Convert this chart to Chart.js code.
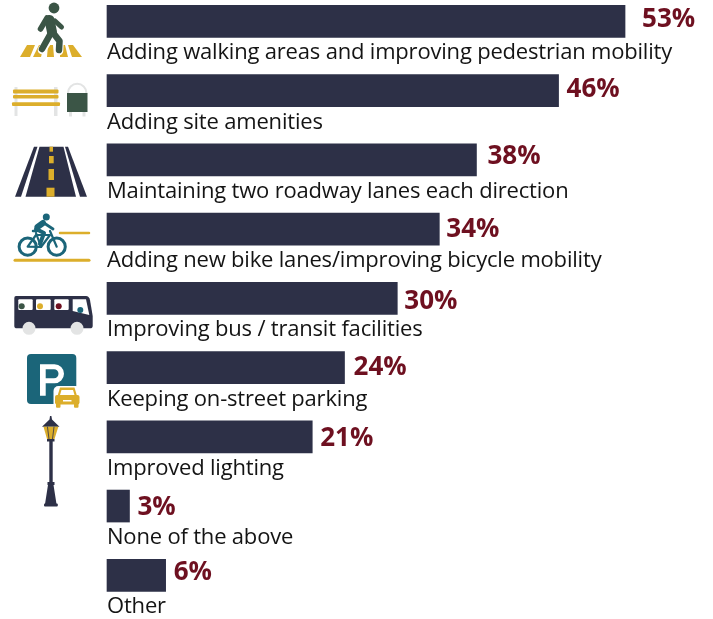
<!DOCTYPE html>
<html>
<head>
<meta charset="utf-8">
<style>
  html, body { margin: 0; padding: 0; background: #fff; }
  canvas { display: block; }
</style>
<script src="https://cdn.jsdelivr.net/npm/chart.js@4"></script>
</head>
<body>
<canvas id="chart" width="713" height="619"></canvas>
<script>
const categories = [
  "Adding walking areas and improving pedestrian mobility",
  "Adding site amenities",
  "Maintaining two roadway lanes each direction",
  "Adding new bike lanes/improving bicycle mobility",
  "Improving bus / transit facilities",
  "Keeping on-street parking",
  "Improved lighting",
  "None of the above",
  "Other"
];
// bar lengths
const barValues = [53, 46.2, 37.8, 34, 29.7, 24.3, 21, 2.3, 6];
// printed labels
const valueLabels = ["53%", "46%", "38%", "34%", "30%", "24%", "21%", "3%", "6%"];

const NAVY = "#2d3047", MAROON = "#6e1020", GOLD = "#dcae2b", GREEN = "#3b5546", TEAL = "#1b6579", GREY = "#e3e4e4";

// the value labels sit unevenly in the original, nudge them per row
const labelDx = [17, 8, 11, 7, 7, 9, 8, 8, 8];
const labelDy = [-3, -3, -5, -1, 2, -2, 0, 0, -4];

function poly(ctx, color, pts) {
  ctx.fillStyle = color;
  ctx.beginPath();
  pts.forEach((p, i) => (i ? ctx.lineTo(p[0], p[1]) : ctx.moveTo(p[0], p[1])));
  ctx.closePath();
  ctx.fill();
}
function line(ctx, color, w, pts) {
  ctx.strokeStyle = color;
  ctx.lineWidth = w;
  ctx.lineCap = "round";
  ctx.lineJoin = "round";
  ctx.beginPath();
  pts.forEach((p, i) => (i ? ctx.lineTo(p[0], p[1]) : ctx.moveTo(p[0], p[1])));
  ctx.stroke();
}
function dot(ctx, color, x, y, r) {
  ctx.fillStyle = color;
  ctx.beginPath();
  ctx.arc(x, y, r, 0, Math.PI * 2);
  ctx.fill();
}
function box(ctx, color, x0, y0, x1, y1, r) {
  ctx.fillStyle = color;
  ctx.beginPath();
  ctx.roundRect(x0, y0, x1 - x0, y1 - y0, r || 0);
  ctx.fill();
}

function drawWalker(ctx) {
  poly(ctx, GOLD, [[27, 45], [35, 45], [30, 57], [20, 57]]);
  poly(ctx, GOLD, [[39, 45], [44, 45], [41, 57], [33, 57]]);
  poly(ctx, GOLD, [[48, 45], [53, 45], [54, 57], [47, 57]]);
  poly(ctx, GOLD, [[60, 45], [65, 45], [68, 57], [60, 57]]);
  poly(ctx, GOLD, [[68, 45], [73, 45], [82, 57], [72, 57]]);
  // white halo so the legs stand off the crossing
  line(ctx, "#fff", 8.5, [[51, 36], [42, 50]]);
  line(ctx, "#fff", 8.5, [[54, 36], [59.5, 42], [59, 51]]);
  dot(ctx, GREEN, 54, 8, 5.4);
  line(ctx, GREEN, 10, [[49.5, 20], [52, 32]]);
  line(ctx, GREEN, 5.5, [[47, 18], [40.5, 29]]);
  line(ctx, GREEN, 5, [[55, 21], [61.5, 27]]);
  line(ctx, GREEN, 6.5, [[51, 33], [42, 49]]);
  line(ctx, GREEN, 6.5, [[54, 34], [59.5, 41], [59, 50]]);
}
function drawBench(ctx) {
  box(ctx, GREY, 14.5, 87, 17.5, 116);
  box(ctx, GREY, 54, 87, 57.5, 116);
  box(ctx, GOLD, 13, 89.5, 58.5, 93.5, 1);
  box(ctx, GOLD, 13, 95, 58.5, 98.5, 1);
  box(ctx, GOLD, 12, 102.3, 60, 106, 1);
  ctx.strokeStyle = GREY;
  ctx.lineWidth = 2;
  ctx.beginPath();
  ctx.moveTo(68, 94);
  ctx.lineTo(68, 93);
  ctx.arc(77.2, 93, 9.2, Math.PI, 0);
  ctx.lineTo(86.5, 94);
  ctx.stroke();
  box(ctx, GREEN, 67, 93, 87.5, 112);
  box(ctx, GREY, 69, 112, 72, 116.5);
  box(ctx, GREY, 82.5, 112, 85.5, 116.5);
}
function drawRoad(ctx) {
  poly(ctx, NAVY, [[39.5, 146.7], [63.5, 146.7], [76, 196.7], [25.5, 196.7]]);
  poly(ctx, NAVY, [[34, 146.7], [37.5, 146.7], [21, 196.7], [15, 196.7]]);
  poly(ctx, NAVY, [[65, 146.7], [68, 146.7], [87, 196.7], [80, 196.7]]);
  box(ctx, GOLD, 49.5, 146.7, 53, 151.7);
  box(ctx, GOLD, 49, 156, 53.7, 163.3);
  box(ctx, GOLD, 48.5, 169, 54, 180);
  box(ctx, GOLD, 46.5, 187.7, 54.5, 196.7);
}
function drawBike(ctx) {
  line(ctx, GOLD, 2.5, [[60, 233], [89, 233]]);
  line(ctx, GOLD, 3, [[15, 260.3], [89, 260.3]]);
  ctx.strokeStyle = TEAL;
  ctx.lineWidth = 3;
  ctx.beginPath();
  ctx.arc(27.7, 246.7, 8.6, 0, Math.PI * 2);
  ctx.stroke();
  ctx.beginPath();
  ctx.arc(56.7, 246.7, 8.6, 0, Math.PI * 2);
  ctx.stroke();
  dot(ctx, TEAL, 46.3, 217, 3.5);
  line(ctx, TEAL, 2.2, [[27.7, 246.7], [36, 235], [50, 235], [41, 247], [27.7, 246.7]]);
  line(ctx, TEAL, 2.2, [[36, 233], [41, 247]]);
  line(ctx, TEAL, 2.2, [[50, 231], [56.7, 246.7]]);
  line(ctx, TEAL, 6, [[37.5, 227], [43, 223]]);
  line(ctx, TEAL, 2.8, [[44, 223], [53, 229]]);
  line(ctx, TEAL, 4, [[36, 229], [44, 233], [40, 244]]);
  line(ctx, TEAL, 2.5, [[33, 231], [37, 231]]);
}
function drawBus(ctx) {
  ctx.fillStyle = NAVY;
  ctx.beginPath();
  ctx.moveTo(16, 296);
  ctx.lineTo(86, 296);
  ctx.quadraticCurveTo(89, 296, 90, 300);
  ctx.lineTo(92.7, 316);
  ctx.lineTo(92.7, 326);
  ctx.quadraticCurveTo(92.7, 328.3, 90, 328.3);
  ctx.lineTo(17, 328.3);
  ctx.quadraticCurveTo(14.3, 328.3, 14.3, 326);
  ctx.lineTo(14.3, 298);
  ctx.quadraticCurveTo(14.3, 296, 16, 296);
  ctx.fill();
  box(ctx, "#fff", 18.3, 299.3, 32.7, 310, 1);
  box(ctx, "#fff", 36, 299.3, 50.7, 310, 1);
  box(ctx, "#fff", 54.3, 299.3, 68.7, 310, 1);
  poly(ctx, "#fff", [[72.7, 299.3], [86, 299.3], [89.3, 315], [72.7, 311]]);
  dot(ctx, GREEN, 21.7, 306.3, 3);
  dot(ctx, GOLD, 40, 306.3, 3);
  dot(ctx, MAROON, 58.7, 306.3, 3);
  dot(ctx, TEAL, 80.3, 310, 3);
  dot(ctx, GREY, 29, 328.3, 6.5);
  dot(ctx, GREY, 77, 328.3, 6.5);
}
function drawParking(ctx) {
  box(ctx, TEAL, 27, 354, 76.3, 404, 4);
  ctx.fillStyle = "#fff";
  ctx.beginPath();
  ctx.moveTo(40, 364.3);
  ctx.lineTo(54.5, 364.3);
  ctx.arc(54.5, 373.8, 9.5, -Math.PI / 2, Math.PI / 2);
  ctx.lineTo(45.7, 383.3);
  ctx.lineTo(45.7, 395.7);
  ctx.lineTo(40, 395.7);
  ctx.closePath();
  ctx.moveTo(45.7, 369.3);
  ctx.lineTo(45.7, 378.3);
  ctx.lineTo(54, 378.3);
  ctx.arc(54, 373.8, 4.5, Math.PI / 2, -Math.PI / 2, true);
  ctx.closePath();
  ctx.fill("evenodd");
  box(ctx, "#fff", 53.5, 386, 81, 409, 5);
  box(ctx, GOLD, 55, 395, 79.5, 404.5, 2);
  poly(ctx, GOLD, [[57.5, 396], [60, 387.5], [74.5, 387.5], [77, 396]]);
  poly(ctx, "#fff", [[60, 395], [61.5, 390], [73, 390], [74.5, 395]]);
  box(ctx, GOLD, 56, 403, 60.5, 407.7, 1);
  box(ctx, GOLD, 74, 403, 78.5, 407.7, 1);
  box(ctx, "#fff", 63, 400, 71.5, 401.5);
}
function drawLamp(ctx) {
  poly(ctx, NAVY, [[50, 416], [51.4, 416], [52, 419.5], [59.5, 426.8], [42, 426.8], [49.5, 419.5]]);
  poly(ctx, GOLD, [[43.5, 426.8], [58.3, 426.8], [54.5, 439], [47, 439]]);
  line(ctx, NAVY, 0.8, [[47.5, 427], [49, 439]]);
  line(ctx, NAVY, 0.8, [[54, 427], [52.5, 439]]);
  box(ctx, NAVY, 47, 439, 54.5, 441.5);
  box(ctx, NAVY, 49.3, 441, 52.7, 484);
  box(ctx, NAVY, 47.5, 482, 54.5, 485);
  poly(ctx, NAVY, [[48, 485], [53.5, 485], [56.5, 504], [45, 504]]);
  box(ctx, NAVY, 44, 503.5, 57.8, 506.5, 1);
}

const decoration = {
  id: "decoration",
  afterDatasetsDraw(chart) {
    const ctx = chart.ctx;
    const meta = chart.getDatasetMeta(0);
    ctx.save();
    ctx.textBaseline = "alphabetic";
    meta.data.forEach((bar, i) => {
      ctx.textAlign = "left";
      ctx.fillStyle = MAROON;
      ctx.font = 'bold 26px "Open Sans"';
      ctx.fillText(valueLabels[i], bar.x + labelDx[i], bar.y + 9 + labelDy[i]);
      ctx.fillStyle = "#141414";
      ctx.font = '22px "Open Sans"';
      ctx.letterSpacing = "-0.19px";
      ctx.fillText(categories[i], 107, bar.y + 38);
      ctx.letterSpacing = "0px";
    });
    [drawWalker, drawBench, drawRoad, drawBike, drawBus, drawParking, drawLamp].forEach(fn => fn(ctx));
    ctx.restore();
  }
};

new Chart(document.getElementById("chart"), {
  type: "bar",
  data: {
    labels: categories,
    datasets: [{
      data: barValues,
      backgroundColor: NAVY,
      borderWidth: 0,
      barThickness: 32,
      clip: false
    }]
  },
  options: {
    indexAxis: "y",
    responsive: false,
    animation: false,
    layout: { padding: { left: 107, right: 0, top: 21.3, bottom: 43.7 } },
    scales: {
      x: { display: false, min: 0, max: 62 },
      y: { display: false, offset: false }
    },
    plugins: { legend: { display: false }, tooltip: { enabled: false } }
  },
  plugins: [decoration]
});
</script>
</body>
</html>
